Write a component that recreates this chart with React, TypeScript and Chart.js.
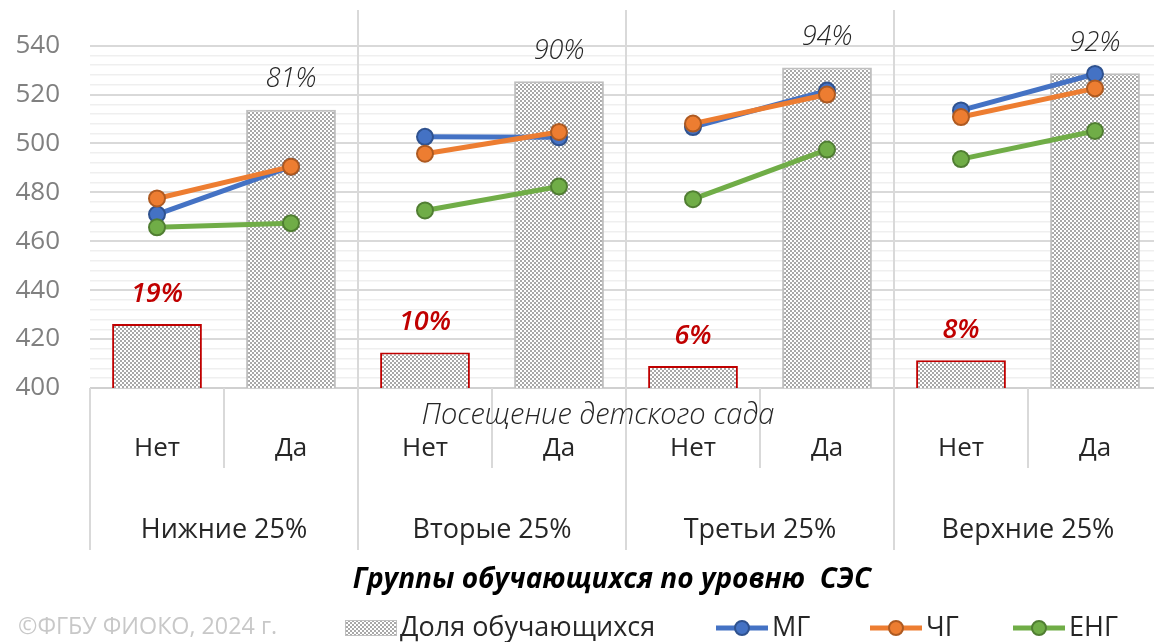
import React, { useEffect, useRef } from "react";
import { Chart, registerables } from "chart.js";
Chart.register(...registerables);

const categories = ["Нет", "Да", "Нет", "Да", "Нет", "Да", "Нет", "Да"];
const groups = ["Нижние 25%", "Вторые 25%", "Третьи 25%", "Верхние 25%"];
const shareValues = [18.7, 81.3, 10.4, 89.6, 6.4, 93.6, 8.1, 91.9];
const shareLabels = ["19%", "81%", "10%", "90%", "6%", "94%", "8%", "92%"];
const mgValues = [471, 490.5, 502.7, 502.5, 506.7, 521.6, 513.5, 528.4];
const chgValues = [477.5, 490.5, 495.8, 504.7, 508.1, 520, 510.8, 522.5];
const engValues = [465.7, 467.4, 472.6, 482.4, 477.2, 497.5, 493.6, 505.1];
const seriesNames = ["Доля обучающихся", "МГ", "ЧГ", "ЕНГ"];
const yMin = 400;
const yMax = 540;
const yMinorStep = 4;
const yLabelStep = 20;
const subAxisTitle = "Посещение детского сада";
const axisTitle = "Группы обучающихся по уровню  СЭС";
const copyright = "©ФГБУ ФИОКО, 2024 г.";

const FONT = "'Open Sans', 'Noto Sans', sans-serif";
const lineColors = ["#4472c4", "#ed7d31", "#70ad47"];
const markerBorders = ["#2f528f", "#ae5a21", "#507e32"];

function makePattern(): CanvasPattern | string {
  const t = document.createElement("canvas");
  t.width = 4;
  t.height = 4;
  const c = t.getContext("2d");
  if (!c) return "#d0d0d0";
  c.fillStyle = "#ffffff";
  c.fillRect(0, 0, 4, 4);
  c.fillStyle = "#a8a8a8";
  c.fillRect(0, 0, 2, 2);
  c.fillRect(2, 2, 2, 2);
  const p = c.createPattern(t, "repeat");
  return p || "#d0d0d0";
}

export default function App() {
  const ref = useRef<HTMLCanvasElement>(null);
  useEffect(() => {
    const pattern = makePattern();
    const overlay = {
      id: "overlay",
      afterDatasetsDraw(chart: any) {
        const ctx = chart.ctx;
        const x = chart.scales.x;
        const y2 = chart.scales.y2;
        ctx.save();
        ctx.textAlign = "center";
        ctx.textBaseline = "middle";
        shareValues.forEach((v, i) => {
          const px = x.getPixelForValue(i);
          const py = y2.getPixelForValue(v) - 30;
          if (i % 2 === 0) {
            ctx.fillStyle = "#c00000";
            ctx.font = `italic 600 27px ${FONT}`;
          } else {
            ctx.fillStyle = "#262626";
            ctx.font = `italic 300 27px ${FONT}`;
          }
          ctx.fillText(shareLabels[i], px, py);
        });
        ctx.restore();
      },
      afterDraw(chart: any) {
        const ctx = chart.ctx;
        const x = chart.scales.x;
        const area = chart.chartArea;
        const cw = (area.right - area.left) / categories.length;
        ctx.save();
        ctx.strokeStyle = "#d9d9d9";
        ctx.lineWidth = 2;
        for (let i = 0; i <= categories.length; i++) {
          const b = Math.round(area.left + i * cw);
          ctx.beginPath();
          if (i % 2 === 1) {
            ctx.moveTo(b, area.bottom);
            ctx.lineTo(b, 468);
          } else if (i === 0) {
            ctx.moveTo(b, area.bottom);
            ctx.lineTo(b, 550);
          } else {
            ctx.moveTo(b, 10);
            ctx.lineTo(b, 550);
          }
          ctx.stroke();
        }
        ctx.textAlign = "center";
        ctx.textBaseline = "middle";
        ctx.fillStyle = "#262626";
        ctx.font = `400 26px ${FONT}`;
        categories.forEach((c, i) => {
          ctx.fillText(c, x.getPixelForValue(i), 449);
        });
        ctx.font = `400 27px ${FONT}`;
        groups.forEach((g, gi) => {
          const cx = (x.getPixelForValue(gi * 2) + x.getPixelForValue(gi * 2 + 1)) / 2;
          ctx.fillText(g, cx, 530);
        });
        ctx.font = `italic 300 29px ${FONT}`;
        ctx.fillText(subAxisTitle, 598, 416);
        ctx.fillStyle = "#000000";
        ctx.font = `italic 700 28px ${FONT}`;
        ctx.fillText(axisTitle, 612, 580);

        // legend
        const ly = 628;
        ctx.textAlign = "left";
        ctx.font = `400 27px ${FONT}`;
        ctx.fillStyle = pattern as any;
        ctx.fillRect(345, ly - 8, 52, 16);
        ctx.strokeStyle = "#bfbfbf";
        ctx.lineWidth = 1;
        ctx.strokeRect(345.5, ly - 7.5, 51, 15);
        ctx.fillStyle = "#262626";
        ctx.fillText(seriesNames[0], 400, ly);
        const lx = [716, 870, 1013];
        for (let k = 0; k < 3; k++) {
          ctx.strokeStyle = lineColors[k];
          ctx.lineWidth = 5;
          ctx.beginPath();
          ctx.moveTo(lx[k], ly);
          ctx.lineTo(lx[k] + 52, ly);
          ctx.stroke();
          ctx.beginPath();
          ctx.arc(lx[k] + 26, ly, 7, 0, Math.PI * 2);
          ctx.fillStyle = lineColors[k];
          ctx.fill();
          ctx.lineWidth = 2;
          ctx.strokeStyle = markerBorders[k];
          ctx.stroke();
          ctx.fillStyle = "#262626";
          ctx.fillText(seriesNames[k + 1], lx[k] + 56, ly);
        }
        ctx.fillStyle = "#c8c8c8";
        ctx.font = `400 23.3px ${FONT}`;
        ctx.fillText(copyright, 18, 627);
        ctx.restore();
      },
    };

    const lineDs = (label: string, data: number[], k: number) => ({
      type: "line" as const,
      label,
      data,
      yAxisID: "y",
      borderColor: lineColors[k],
      backgroundColor: lineColors[k],
      borderWidth: 5,
      pointRadius: 8,
      pointHoverRadius: 8,
      pointBorderWidth: 2,
      pointBackgroundColor: lineColors[k],
      pointBorderColor: markerBorders[k],
      order: 3 - k,
      segment: {
        borderColor: (c: any) => (c.p0DataIndex % 2 === 1 ? "rgba(0,0,0,0)" : lineColors[k]),
      },
    });

    const chart = new Chart(ref.current as HTMLCanvasElement, {
      type: "bar",
      data: {
        labels: categories,
        datasets: [
          {
            type: "bar",
            label: seriesNames[0],
            data: shareValues,
            yAxisID: "y2",
            backgroundColor: pattern as any,
            borderColor: categories.map((_, i) => (i % 2 === 0 ? "#c00000" : "#bfbfbf")),
            borderWidth: 2,
            barPercentage: 0.67,
            categoryPercentage: 1,
            order: 10,
          } as any,
          lineDs(seriesNames[1], mgValues, 0),
          lineDs(seriesNames[2], chgValues, 1),
          lineDs(seriesNames[3], engValues, 2),
        ],
      },
      options: {
        responsive: false,
        animation: false,
        devicePixelRatio: 1,
        layout: { padding: { left: 0, right: 9, top: 43, bottom: 254 } },
        plugins: { legend: { display: false }, tooltip: { enabled: false } },
        scales: {
          x: { display: false, offset: true },
          y: {
            position: "left",
            min: yMin,
            max: yMax,
            afterFit: (s: any) => {
              s.width = 90;
            },
            border: { display: false },
            grid: {
              drawTicks: false,
              color: (c: any) =>
                c.tick.value === yMin ? "#d0d0d0" : c.tick.value % yLabelStep === 0 ? "#d9d9d9" : "#efefef",
              lineWidth: (c: any) => (c.tick.value % yLabelStep === 0 ? 2 : 1.5),
            },
            ticks: {
              stepSize: yMinorStep,
              autoSkip: false,
              padding: 30,
              color: "#808080",
              font: { family: FONT, size: 26, weight: "400" },
              callback: (v: any) => (Number(v) % yLabelStep === 0 ? String(v) : ""),
            },
          },
          y2: { display: false, min: 0, max: 100 },
        },
      } as any,
      plugins: [overlay],
    });
    return () => chart.destroy();
  }, []);
  return (
    <div
      style={{
        position: "fixed",
        left: 0,
        top: 0,
        width: 1154,
        height: 642,
        overflow: "hidden",
        background: "#ffffff",
      }}
    >
      <canvas ref={ref} width={1172} height={642} style={{ display: "block", width: 1172, height: 642 }} />
    </div>
  );
}
